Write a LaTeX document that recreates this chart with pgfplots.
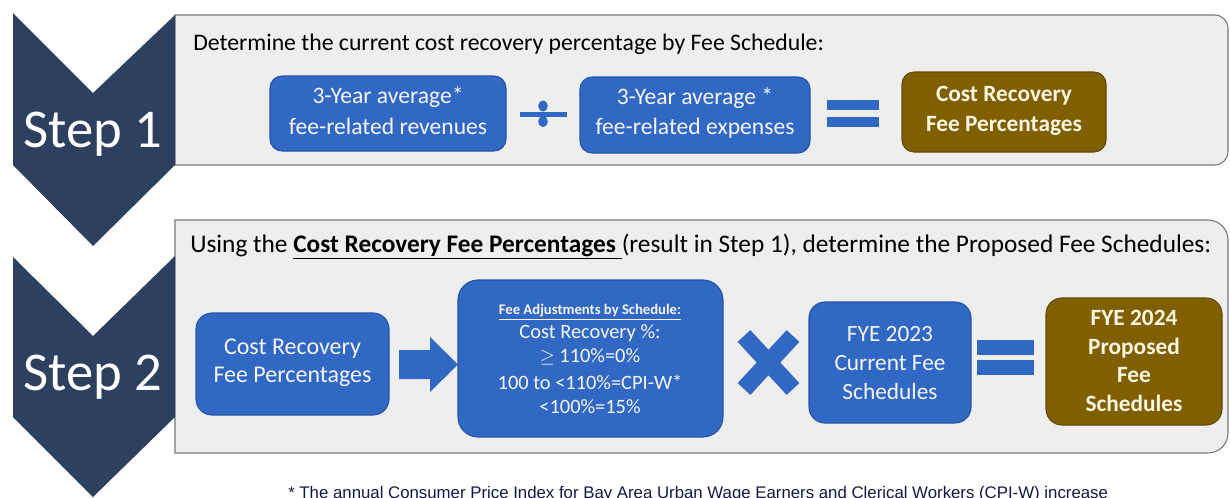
\documentclass[border=0pt]{standalone}
\usepackage{pgfplots}
\pgfplotsset{compat=1.18}
\usepackage{fontspec}
\setmainfont{Carlito}
\newfontfamily\arialfont{Liberation Sans}
\definecolor{chev}{RGB}{45,64,96}
\definecolor{panelfill}{RGB}{238,238,238}
\definecolor{paneldraw}{RGB}{120,120,120}
\definecolor{bluefill}{RGB}{49,104,196}
\definecolor{bluedraw}{RGB}{38,84,165}
\definecolor{brownfill}{RGB}{127,95,0}
\definecolor{browndraw}{RGB}{98,74,0}
\definecolor{boxtext}{RGB}{245,245,250}
\definecolor{browntext}{RGB}{252,246,226}
\definecolor{footcol}{RGB}{22,22,70}
\begin{document}
\begin{tikzpicture}
\begin{axis}[width=922.5pt,height=372.75pt,scale only axis,
  xmin=0,xmax=1230,ymin=0,ymax=497,y dir=reverse,
  axis lines=none,ticks=none,clip=true]
% panels
\draw[fill=panelfill,draw=paneldraw,line width=0.8pt]
  (axis cs:175,165) -- (axis cs:175,15) -- ([xshift=-10pt]axis cs:1228,15)
  arc[start angle=90,end angle=0,radius=10pt] -- ([yshift=10pt]axis cs:1228,165)
  arc[start angle=0,end angle=-90,radius=10pt] -- cycle;
\draw[fill=panelfill,draw=paneldraw,line width=0.8pt]
  (axis cs:175,453) -- (axis cs:175,220) -- ([xshift=-15pt]axis cs:1228,220)
  arc[start angle=90,end angle=0,radius=15pt] -- ([yshift=15pt]axis cs:1228,453)
  arc[start angle=0,end angle=-90,radius=15pt] -- cycle;
% chevrons
\addplot[fill=chev,draw=none] coordinates {(13,13) (93,93) (175,15) (175,165) (93,246) (13,165)} -- cycle;
\addplot[fill=chev,draw=none] coordinates {(13,257) (93,336) (175,256) (175,417) (93,497) (13,417)} -- cycle;
\node[anchor=base,text=white,font=\fontsize{41}{41}\selectfont,inner sep=0] at (axis cs:93,147) {Step 1};
\node[anchor=base,text=white,font=\fontsize{41}{41}\selectfont,inner sep=0] at (axis cs:93,390) {Step 2};
% titles
\node[anchor=base west,inner sep=0,font=\fontsize{17.8}{20}\selectfont] at (axis cs:193,50)
  {Determine the current cost recovery percentage by Fee Schedule:};
\node[anchor=base west,inner sep=0,font=\fontsize{19}{21}\selectfont] at (axis cs:190,252)
  {Using the \textbf{\underline{Cost Recovery Fee Percentages\ }}(result in Step 1), determine the Proposed Fee Schedules:};
% step 1 boxes
\draw[fill=bluefill,draw=bluedraw,line width=0.8pt,rounded corners=9pt] (axis cs:270,76) rectangle (axis cs:506,151);
\node[align=center,text=boxtext,font=\fontsize{17.7}{23}\selectfont,inner sep=0] at (axis cs:388,111) {3-Year average*\\fee-related revenues};
\draw[fill=bluefill,draw=bluedraw,line width=0.8pt,rounded corners=9pt] (axis cs:580,77) rectangle (axis cs:810,153);
\node[align=center,text=boxtext,font=\fontsize{17.7}{23}\selectfont,inner sep=0] at (axis cs:695,113) {3-Year average *\\fee-related expenses};
\draw[fill=brownfill,draw=browndraw,line width=0.8pt,rounded corners=9pt] (axis cs:902,72) rectangle (axis cs:1106,152);
\node[align=center,text=browntext,font=\bfseries\fontsize{17.5}{22.5}\selectfont,inner sep=0] at (axis cs:1004,111) {Cost Recovery\\Fee Percentages};
% divide
\fill[bluefill] (axis cs:520,111.5) rectangle (axis cs:567,116.5);
\fill[bluefill] (axis cs:543,106) ellipse[x radius=3.6pt,y radius=4.2pt];
\fill[bluefill] (axis cs:543,121.5) ellipse[x radius=3.6pt,y radius=4.2pt];
% equals 1
\fill[bluefill] (axis cs:827,100) rectangle (axis cs:879,110);
\fill[bluefill] (axis cs:827,117) rectangle (axis cs:879,127);
% step 2 boxes
\draw[fill=bluefill,draw=bluedraw,line width=0.8pt,rounded corners=12pt] (axis cs:196,313) rectangle (axis cs:389,415);
\node[align=center,text=boxtext,font=\fontsize{18}{21}\selectfont,inner sep=0] at (axis cs:292.5,363) {Cost Recovery\\Fee Percentages};
% arrow
\addplot[fill=bluefill,draw=none] coordinates {(399,350) (430,350) (430,337) (458,364.5) (430,392) (430,379) (399,379)} -- cycle;
% big box
\draw[fill=bluefill,draw=bluedraw,line width=0.8pt,rounded corners=15pt] (axis cs:458,280) rectangle (axis cs:723,437);
\node[text=boxtext,font=\bfseries\fontsize{11}{12}\selectfont,inner sep=0] at (axis cs:590,312) {\underline{Fee Adjustments by Schedule:}};
\node[text=boxtext,font=\fontsize{15.3}{18}\selectfont,inner sep=0] at (axis cs:590,333) {Cost Recovery \%:};
\node[text=boxtext,font=\fontsize{15.3}{18}\selectfont,inner sep=0] at (axis cs:590,357) {\ensuremath{\geq} 110\%=0\%};
\node[text=boxtext,font=\fontsize{15.3}{18}\selectfont,inner sep=0] at (axis cs:590,382) {100 to <110\%=CPI-W*};
\node[text=boxtext,font=\fontsize{15.3}{18}\selectfont,inner sep=0] at (axis cs:590,407) {<100\%=15\%};
% multiply
\draw[bluefill,line width=13pt] (axis cs:744,336) -- (axis cs:793,389);
\draw[bluefill,line width=13pt] (axis cs:793,336) -- (axis cs:744,389);
% FYE 2023
\draw[fill=bluefill,draw=bluedraw,line width=0.8pt,rounded corners=12pt] (axis cs:809,302) rectangle (axis cs:971,423);
\node[align=center,text=boxtext,font=\fontsize{17.5}{21.5}\selectfont,inner sep=0] at (axis cs:890,363) {FYE 2023\\Current Fee\\Schedules};
% equals 2
\fill[bluefill] (axis cs:977,340) rectangle (axis cs:1034,355);
\fill[bluefill] (axis cs:977,360) rectangle (axis cs:1034,375);
% FYE 2024
\draw[fill=brownfill,draw=browndraw,line width=0.8pt,rounded corners=12pt] (axis cs:1046,298) rectangle (axis cs:1222,425);
\node[align=center,text=browntext,font=\bfseries\fontsize{17.5}{21.5}\selectfont,inner sep=0] at (axis cs:1134,361) {FYE 2024\\Proposed\\Fee\\Schedules};
% footnote
\node[anchor=base west,inner sep=0,text=footcol,font=\arialfont\fontsize{12.6}{14}\selectfont] at (axis cs:288,498)
  {* The annual Consumer Price Index for Bay Area Urban Wage Earners and Clerical Workers (CPI-W) increase};
\end{axis}
\pgfresetboundingbox
\path[use as bounding box] (current axis.south west) rectangle (current axis.north east);
\end{tikzpicture}
\end{document}
